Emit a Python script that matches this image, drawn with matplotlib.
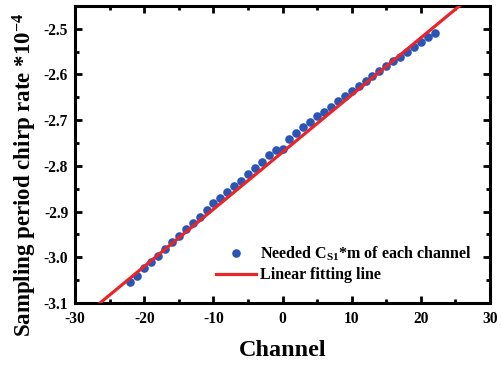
import numpy as np
import matplotlib
matplotlib.use('Agg')
import matplotlib.pyplot as plt
from matplotlib.ticker import MultipleLocator, FormatStrFormatter

# values (units of 1e-4)
channels = np.arange(-22, 23)
rate = [-3.055, -3.040, -3.024, -3.011, -2.997, -2.982, -2.967, -2.953,
        -2.938, -2.925, -2.911, -2.897, -2.882, -2.871, -2.857, -2.844,
        -2.833, -2.817, -2.804, -2.791, -2.777, -2.766, -2.763, -2.742,
        -2.729, -2.716, -2.705, -2.692, -2.682, -2.671, -2.658, -2.647,
        -2.636, -2.626, -2.615, -2.604, -2.593, -2.582, -2.571, -2.561,
        -2.551, -2.540, -2.530, -2.518, -2.509]
# linear fit
fit_slope = 0.0125
fit_intercept = -2.770
fit_range = [-30, 30]

plt.rcParams['font.family'] = 'Liberation Serif'
plt.rcParams['font.weight'] = 'bold'
plt.rcParams['axes.unicode_minus'] = False
plt.rcParams['mathtext.fontset'] = 'custom'
plt.rcParams['mathtext.rm'] = 'Liberation Serif:bold'
plt.rcParams['mathtext.bf'] = 'Liberation Serif:bold'
plt.rcParams['mathtext.it'] = 'Liberation Serif:bold'

fx = np.array(fit_range)

fig = plt.figure(figsize=(5.01, 3.65), dpi=100)
ax = fig.add_axes([0.150, 0.170, 0.828, 0.814])
ax.plot(channels, rate, 'o', color='#2b55b5', ms=6.2, mec='none',
        label=r'Needed C$_{\mathbf{S1}}$*m of each channel', zorder=2)
ax.plot(fx, fit_slope * fx + fit_intercept, '-', color='#e8262a', lw=2.3,
        label='Linear fitting line', zorder=3)

ax.set_xlim(-30, 30)
ax.set_ylim(-3.1, -2.45)
ax.xaxis.set_major_locator(MultipleLocator(10))
ax.xaxis.set_minor_locator(MultipleLocator(5))
ax.yaxis.set_major_locator(MultipleLocator(0.1))
ax.yaxis.set_minor_locator(MultipleLocator(0.05))
ax.yaxis.set_major_formatter(FormatStrFormatter('%.1f'))
ax.tick_params(which='both', direction='in', top=True, right=True,
               width=2, labelsize=11.2)
ax.tick_params(axis='x', pad=6)
ax.tick_params(axis='y', pad=5)
ax.tick_params(which='major', length=5)
ax.tick_params(which='minor', length=3)
for s in ax.spines.values():
    s.set_linewidth(2.2)

ax.set_xlabel('Channel', fontsize=17.5, fontweight='bold', labelpad=9)
ax.set_ylabel(r'Sampling period chirp rate *10$^{\mathbf{-4}}$', fontsize=16.5,
              fontweight='bold')
ax.yaxis.set_label_coords(-0.087, 0.431)

leg = ax.legend(loc='lower right', bbox_to_anchor=(0.955, 0.066), frameon=False,
                fontsize=11.5, handlelength=2.5, handletextpad=0.25,
                labelspacing=0.25, borderaxespad=0, borderpad=0)

plt.savefig('out.png', dpi=100)
